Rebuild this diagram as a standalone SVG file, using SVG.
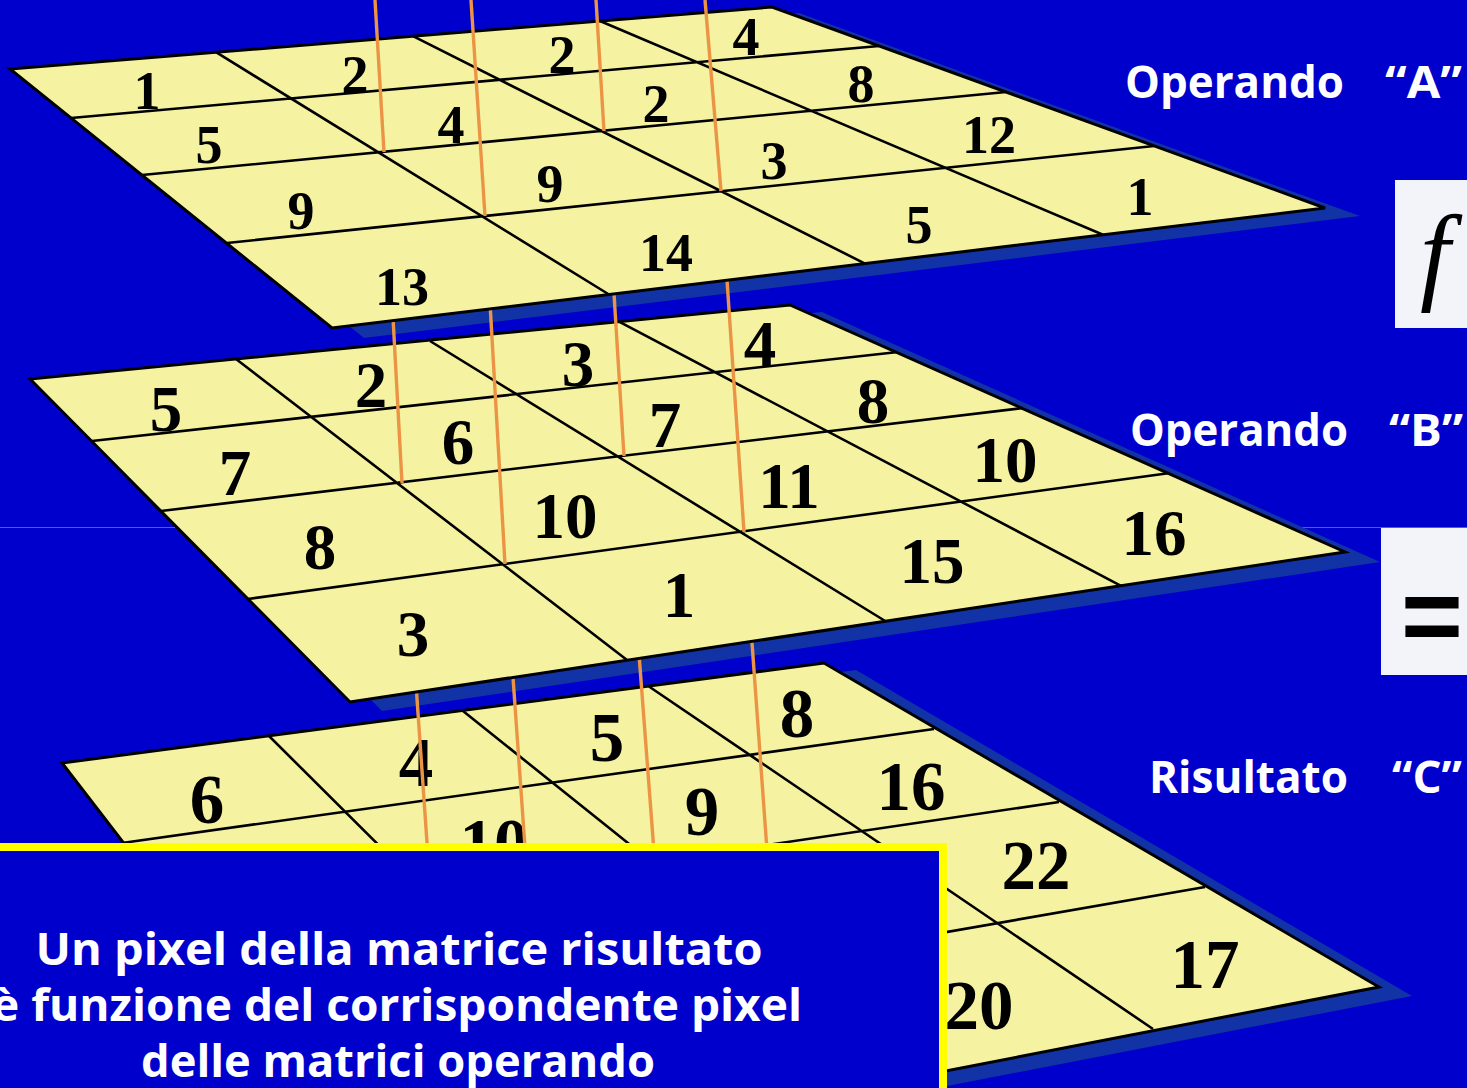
<svg xmlns="http://www.w3.org/2000/svg" width="1467" height="1088" viewBox="0 0 1467 1088">
<style>
.plane{fill:#F5F3A1;stroke:#000;stroke-width:3;stroke-linejoin:miter}
.grid{stroke:#000;stroke-width:2.6;fill:none}
.shadow{fill:#1133A6}
.conn{stroke:#EC9445;stroke-width:3.4;fill:none;stroke-linecap:butt}
.num{font-family:"Liberation Serif","Times New Roman",serif;font-weight:bold;text-anchor:middle;fill:#000}
.na{font-size:54px}
.nb{font-size:65px}
.nc{font-size:69px}
.lbl{font-family:"Open Sans","Liberation Sans",sans-serif;font-weight:bold;font-size:45px;fill:#fff}
.note{font-family:"Open Sans","Liberation Sans",sans-serif;font-weight:bold;font-size:45px;fill:#fff;text-anchor:middle}
.box{fill:#F3F4FA}
.fx{font-family:"Liberation Serif","Times New Roman",serif;font-style:italic;font-size:108px;fill:#000}
.eq{font-family:"Liberation Sans",Arial,sans-serif;font-weight:bold;font-size:106px;fill:#000}
</style>
<rect x="0" y="0" width="1467" height="1088" fill="#0000CC"/>
<line x1="0" y1="527.5" x2="1467" y2="527.5" stroke="#4C5AE6" stroke-width="1"/>

<g id="plane-c">
<polygon class="shadow" points="94,772 856,670 1412,996 415,1189"/>
<polygon class="plane" points="62,763 824,663 1379,987 383,1180"/>
<path class="grid" d="M269,736 L661,1126 M463,711 L919,1076 M649,686.5 L1153,1029 M122,843 L934,729 M190,930 L1059,802 M281,1048 L1205,887"/>
<text class="num nc" x="207" y="823">6</text>
<text class="num nc" x="416" y="786">4</text>
<text class="num nc" x="607" y="761">5</text>
<text class="num nc" x="797" y="737">8</text>
<text class="num nc" x="494" y="867">10</text>
<text class="num nc" x="702" y="835">9</text>
<text class="num nc" x="911" y="810">16</text>
<text class="num nc" x="1036" y="889">22</text>
<text class="num nc" x="979" y="1029">20</text>
<text class="num nc" x="1205" y="988">17</text>
</g>

<g id="shadow-b"><polygon class="shadow" points="62,388 822,312 1380,562 382,711"/></g>

<g id="connectors-bc">
<line class="conn" x1="402" y1="483" x2="431" y2="900"/>
<line class="conn" x1="505" y1="564" x2="536" y2="1003"/>
<line class="conn" x1="624" y1="456" x2="655" y2="865"/>
<line class="conn" x1="744" y1="532" x2="775" y2="961"/>
</g>

<g id="plane-b">
<polygon class="plane" points="30,379 790,305 1345,552 350,702"/>
<path class="grid" d="M236,359 L627,660 M430,341 L886,621.5 M619,321.6 L1121,585.8 M92,441 L898,352 M161,511 L1023,408 M248,599 L1170,473"/>
<text class="num nb" x="166" y="431">5</text>
<text class="num nb" x="371" y="407">2</text>
<text class="num nb" x="578" y="386">3</text>
<text class="num nb" x="760" y="366">4</text>
<text class="num nb" x="235" y="495">7</text>
<text class="num nb" x="458" y="464">6</text>
<text class="num nb" x="665" y="447">7</text>
<text class="num nb" x="873" y="423">8</text>
<text class="num nb" x="320" y="569">8</text>
<text class="num nb" x="565" y="538">10</text>
<text class="num nb" x="789" y="508">11</text>
<text class="num nb" x="1005" y="482">10</text>
<text class="num nb" x="413" y="656">3</text>
<text class="num nb" x="679" y="617">1</text>
<text class="num nb" x="932" y="583">15</text>
<text class="num nb" x="1154" y="555">16</text>
</g>

<g id="shadow-a"><polygon class="shadow" points="42,78 799,13 1360,216 364,338"/></g>

<g id="connectors-ab">
<line class="conn" x1="384" y1="152" x2="402" y2="483"/>
<line class="conn" x1="485" y1="216" x2="505" y2="564"/>
<line class="conn" x1="604" y1="131" x2="624" y2="456"/>
<line class="conn" x1="721" y1="191" x2="744" y2="532"/>
</g>

<g id="plane-a">
<polygon class="plane" points="10,69 772,7 1325,208 332,328"/>
<path class="grid" d="M216,52.2 L609,294.5 M413,36.2 L865,263.6 M600,21 L1103,234.8 M71,118 L879,46 M142,175 L1006,92 M227,243 L1154,146"/>
<text class="num na" x="147" y="109">1</text>
<text class="num na" x="355" y="93">2</text>
<text class="num na" x="562" y="73">2</text>
<text class="num na" x="746" y="55">4</text>
<text class="num na" x="209" y="163">5</text>
<text class="num na" x="451" y="143">4</text>
<text class="num na" x="656" y="122">2</text>
<text class="num na" x="861" y="102">8</text>
<text class="num na" x="301" y="229">9</text>
<text class="num na" x="550" y="202">9</text>
<text class="num na" x="774" y="179">3</text>
<text class="num na" x="989" y="153">12</text>
<text class="num na" x="402" y="305">13</text>
<text class="num na" x="666" y="271">14</text>
<text class="num na" x="919" y="243">5</text>
<text class="num na" x="1140" y="215">1</text>
</g>

<g id="connectors-top">
<line class="conn" x1="375" y1="0" x2="384" y2="152"/>
<line class="conn" x1="471" y1="0" x2="485" y2="216"/>
<line class="conn" x1="596" y1="0" x2="604" y2="131"/>
<line class="conn" x1="705" y1="0" x2="721" y2="191"/>
</g>

<g id="label-a"><text class="lbl" y="98"><tspan x="1125" textLength="219" lengthAdjust="spacingAndGlyphs">Operando</tspan><tspan x="1385" textLength="77" lengthAdjust="spacingAndGlyphs">“A”</tspan></text></g>
<g id="label-b"><text class="lbl" y="446"><tspan x="1130" textLength="218" lengthAdjust="spacingAndGlyphs">Operando</tspan><tspan x="1389" textLength="74" lengthAdjust="spacingAndGlyphs">“B”</tspan></text></g>
<g id="label-c"><text class="lbl" y="793"><tspan x="1149" textLength="199" lengthAdjust="spacingAndGlyphs">Risultato</tspan><tspan x="1392" textLength="70" lengthAdjust="spacingAndGlyphs">“C”</tspan></text></g>

<g id="func-box">
<rect class="box" x="1395" y="180" width="80" height="148"/>
<text class="fx" x="1420" y="290">f</text>
</g>

<g id="equals-box">
<rect class="box" x="1381" y="528" width="90" height="147"/>
<text class="eq" x="1401" y="652">=</text>
</g>

<g id="note-box">
<rect x="-10" y="847" width="953" height="260" fill="#0000CC" stroke="#FFFF00" stroke-width="8"/>
<text class="note" x="399" y="965" textLength="727" lengthAdjust="spacingAndGlyphs">Un pixel della matrice risultato</text>
<text class="note" x="397" y="1021" textLength="810" lengthAdjust="spacingAndGlyphs">è funzione del corrispondente pixel</text>
<text class="note" x="398" y="1077" textLength="514" lengthAdjust="spacingAndGlyphs">delle matrici operando</text>
</g>
</svg>
